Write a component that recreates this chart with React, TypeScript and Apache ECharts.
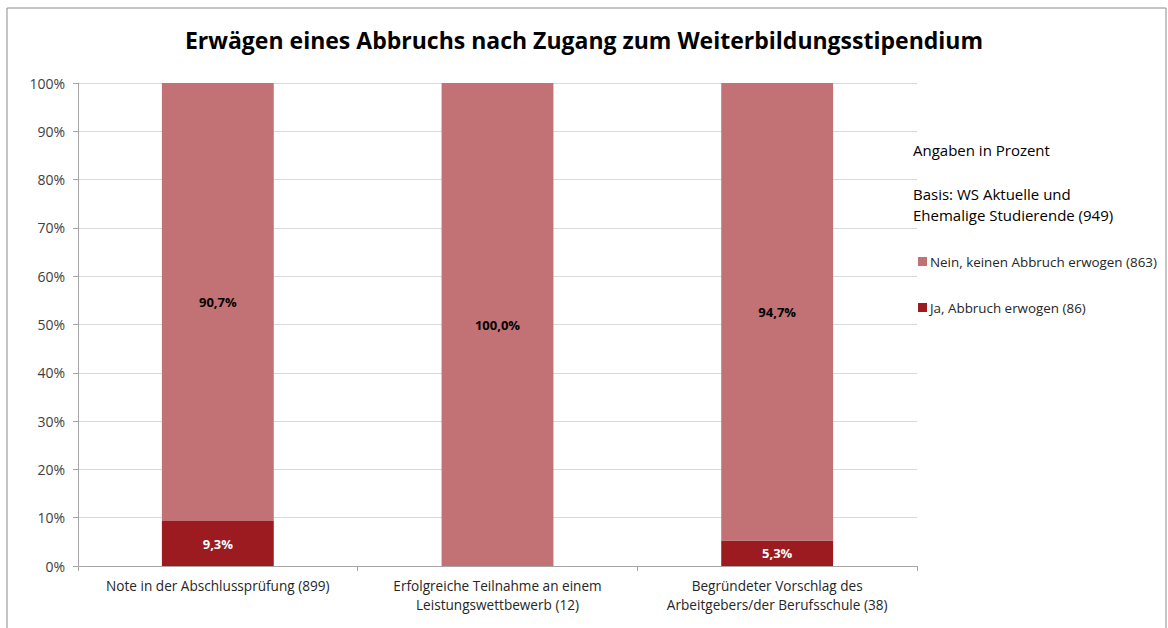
import React, { useEffect, useRef } from "react";
import * as echarts from "echarts";

const categories = [
  "Note in der Abschlussprüfung (899)",
  "Erfolgreiche Teilnahme an einem\nLeistungswettbewerb (12)",
  "Begründeter Vorschlag des\nArbeitgebers/der Berufsschule (38)",
];
const jaValues = [9.3, 0, 5.3];
const neinValues = [90.7, 100.0, 94.7];
const seriesNames = ["Ja, Abbruch erwogen (86)", "Nein, keinen Abbruch erwogen (863)"];
const yTicks = [0, 10, 20, 30, 40, 50, 60, 70, 80, 90, 100];
const titleText = "Erwägen eines Abbruchs nach Zugang zum Weiterbildungsstipendium";
const noteLines = ["Angaben in Prozent", "Basis: WS Aktuelle und\nEhemalige Studierende (949)"];

const FONT = "'Open Sans', 'Noto Sans', sans-serif";

export default function App() {
  const ref = useRef<HTMLDivElement>(null);
  useEffect(() => {
    document.body.style.margin = "0";
    const chart = echarts.init(ref.current!, undefined, { renderer: "svg" });
    const fmt = (p: any) => (p.value > 0 ? p.value.toFixed(1).replace(".", ",") + "%" : "");
    chart.setOption({
      animation: false,
      backgroundColor: "#ffffff",
      textStyle: { fontFamily: FONT },
      title: {
        text: titleText,
        left: "center",
        top: 23,
        textStyle: { fontSize: 23, fontWeight: "bold", color: "#000", fontFamily: FONT },
      },
      grid: { left: 78, right: 251, top: 83, bottom: 62 },
      legend: {
        data: [seriesNames[1], seriesNames[0]],
        orient: "vertical",
        left: 913,
        top: 250,
        itemWidth: 9,
        itemHeight: 9,
        itemGap: 33,
        icon: "rect",
        textStyle: { fontSize: 13.4, color: "#262626", fontFamily: FONT, padding: [0, 0, 0, -2] },
      },
      xAxis: {
        type: "category",
        data: categories,
        axisLine: { lineStyle: { color: "#a6a6a6" } },
        axisTick: { show: true, length: 5, lineStyle: { color: "#a6a6a6" } },
        axisLabel: { color: "#262626", fontSize: 13.6, lineHeight: 19, margin: 10, interval: 0 },
      },
      yAxis: {
        type: "value",
        min: 0,
        max: 100,
        interval: 10,
        axisLine: { show: true, lineStyle: { color: "#a6a6a6" } },
        axisTick: { show: true, length: 5, lineStyle: { color: "#a6a6a6" } },
        splitLine: { lineStyle: { color: "#d9d9d9" } },
        axisLabel: {
          color: "#404040",
          fontSize: 14,
          margin: 13,
          formatter: (v: number) => (yTicks.includes(v) ? v + "%" : ""),
        },
      },
      series: [
        {
          name: seriesNames[0],
          type: "bar",
          stack: "s",
          data: jaValues,
          barWidth: "40%",
          itemStyle: { color: "#9b1b20" },
          label: { show: true, position: "inside", formatter: fmt, color: "#ffffff", fontWeight: "bold", fontSize: 13 },
        },
        {
          name: seriesNames[1],
          type: "bar",
          stack: "s",
          data: neinValues,
          barWidth: "40%",
          itemStyle: { color: "#c27174" },
          label: { show: true, position: "inside", formatter: fmt, color: "#000000", fontWeight: "bold", fontSize: 13 },
        },
      ],
      graphic: [
        {
          type: "rect",
          shape: { x: 7, y: 8, width: 1159, height: 640 },
          style: { fill: "none", stroke: "#8c8c8c", lineWidth: 1 },
          silent: true,
        },
        {
          type: "text",
          left: 913,
          top: 142,
          style: { text: noteLines[0], font: `15px ${FONT}`, fill: "#000" },
        },
        {
          type: "text",
          left: 913,
          top: 183,
          style: { text: noteLines[1], font: `15px ${FONT}`, fill: "#000", lineHeight: 21 },
        },
      ],
    });
    return () => chart.dispose();
  }, []);
  return <div ref={ref} style={{ width: 1168, height: 628 }} />;
}
